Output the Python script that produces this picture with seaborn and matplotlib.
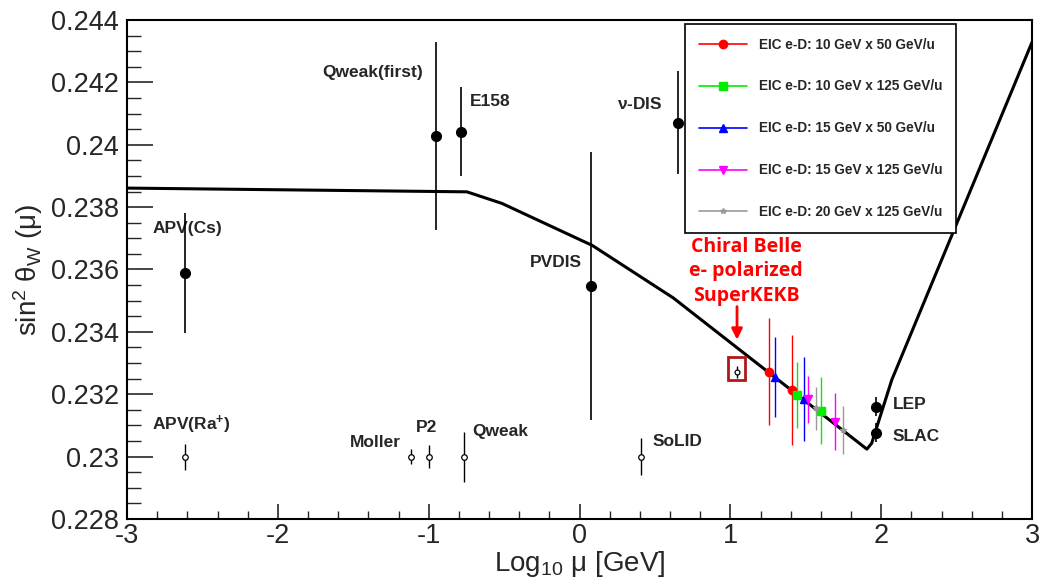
import numpy as np
import pandas as pd
import matplotlib.pyplot as plt
import seaborn as sns
from matplotlib.lines import Line2D
from matplotlib.patches import Rectangle

# Running sin^2 theta_W prediction (log10 mu, value)
curve_x = [-3.0, -0.747, -0.515, 0.085, 0.621, 1.905, 1.937, 2.07, 3.0]
curve_y = [0.23861, 0.23849, 0.23812, 0.23677, 0.23509, 0.23024, 0.23043, 0.23246, 0.24329]

# Existing measurements (filled black points)
meas_names = ['APV(Cs)', 'Qweak(first)', 'E158', r'$\nu$-DIS', 'PVDIS', 'LEP', 'SLAC']
meas_x = [-2.615, -0.951, -0.787, 0.656, 0.077, 1.967, 1.965]
meas_y = [0.23589, 0.24028, 0.24042, 0.24071, 0.23548, 0.23160, 0.23077]
meas_err = [0.00193, 0.0030, 0.00142, 0.00164, 0.0043, 0.0003, 0.0003]

# Future projections (open points at 0.23)
proj_names = [r'APV(Ra$^{+}$)', 'Moller', 'P2', 'Qweak', 'SoLID']
proj_x = [-2.615, -1.119, -0.995, -0.763, 0.406]
proj_y = [0.2300, 0.2300, 0.2300, 0.2300, 0.2300]
proj_err = [0.00042, 0.00025, 0.00037, 0.0008, 0.0006]

# Chiral Belle projection
belle_x = [1.044]
belle_y = [0.23272]
belle_err = [0.0002]

# EIC e-D projections
eic_labels = ['EIC e-D: 10 GeV x 50 GeV/u', 'EIC e-D: 10 GeV x 125 GeV/u',
              'EIC e-D: 15 GeV x 50 GeV/u', 'EIC e-D: 15 GeV x 125 GeV/u',
              'EIC e-D: 20 GeV x 125 GeV/u']
eic_x = [[1.259, 1.407], [1.440, 1.602], [1.294, 1.490], [1.514, 1.692], [1.569, 1.745]]
eic_y = [[0.23272, 0.23214], [0.23198, 0.23147], [0.23256, 0.23184],
         [0.23184, 0.23112], [0.23155, 0.23086]]
eic_err = [[0.00171, 0.00177], [0.00106, 0.00108], [0.00128, 0.00134],
           [0.00076, 0.00091], [0.00069, 0.00076]]

x_ticks = [-3, -2, -1, 0, 1, 2, 3]
x_tick_labels = ['-3', '-2', '-1', '0', '1', '2', '3']
y_ticks = [0.228, 0.230, 0.232, 0.234, 0.236, 0.238, 0.240, 0.242, 0.244]
y_tick_labels = ['0.228', '0.23', '0.232', '0.234', '0.236', '0.238', '0.24', '0.242', '0.244']

# styling
eic_colors = ['#ff0000', '#00ee00', '#0000ff', '#ff00ff', '#999999']
eic_markers = ['o', 's', '^', 'v', '*']
meas_label_pos = [(-2.834, 0.23733), (-1.707, 0.24233), (-0.726, 0.24140), (0.249, 0.24131),
                  (-0.328, 0.23621), (2.079, 0.23166), (2.072, 0.23066)]
proj_label_pos = [(-2.834, 0.23101), (-1.522, 0.23044), (-1.084, 0.23092),
                  (-0.713, 0.23079), (0.487, 0.23050)]

sns.set_style('ticks')
plt.rcParams['font.family'] = ['Liberation Sans', 'DejaVu Sans']
plt.rcParams['mathtext.fontset'] = 'custom'
plt.rcParams['mathtext.rm'] = 'Liberation Sans'
plt.rcParams['mathtext.it'] = 'Liberation Sans:italic'
plt.rcParams['mathtext.bf'] = 'Liberation Sans:bold'
plt.rcParams['mathtext.default'] = 'regular'

fig = plt.figure(figsize=(10.43, 5.79), dpi=100)
ax = fig.add_axes([0.1218, 0.1036, 0.8677, 0.8619])

# prediction curve
curve = pd.DataFrame({'x': curve_x, 'y': curve_y})
sns.lineplot(data=curve, x='x', y='y', sort=False, estimator=None, color='black', lw=2.2, ax=ax, zorder=3)

# existing measurements
ax.errorbar(meas_x, meas_y, yerr=meas_err, fmt='o', color='black', ms=7, elinewidth=1.2,
            capsize=0, zorder=5)
for name, (tx, ty) in zip(meas_names, meas_label_pos):
    ax.text(tx, ty, name, fontsize=12.5, fontweight='bold', ha='left', va='center')

# projections
ax.errorbar(proj_x, proj_y, yerr=proj_err, fmt='o', color='black', mfc='white', ms=4,
            mew=0.9, elinewidth=1.0, capsize=0, zorder=5)
for name, (tx, ty) in zip(proj_names, proj_label_pos):
    ax.text(tx, ty, name, fontsize=12.5, fontweight='bold', ha='left', va='center')

ax.errorbar(belle_x, belle_y, yerr=belle_err, fmt='o', color='black', mfc='white', ms=3.5,
            mew=0.9, elinewidth=1.0, capsize=0, zorder=5)
ax.add_patch(Rectangle((0.985, 0.23246), 0.112, 0.00072, fill=False, ec='#b01818', lw=2, zorder=6))
ax.annotate('', xy=(1.044, 0.23366), xytext=(1.044, 0.2349),
            arrowprops=dict(arrowstyle='-|>', color='red', lw=2, mutation_scale=16))
ax.text(1.104, 0.23705, 'Chiral Belle\ne- polarized\nSuperKEKB', color='red', fontsize=14,
        fontweight='bold', family=['Open Sans', 'DejaVu Sans'], ha='center', va='top',
        linespacing=1.3)

# EIC projections
handles = []
for lab, col, mk, xs, ys, es in zip(eic_labels, eic_colors, eic_markers, eic_x, eic_y, eic_err):
    ms = 6 if mk != '*' else 4
    ax.errorbar(xs, ys, yerr=es, fmt=mk, color=col, ms=ms, elinewidth=1.0, capsize=0, zorder=6)
    handles.append(Line2D([0], [0], color=col, marker=mk, ms=ms, lw=1.2))

leg = ax.legend(handles, eic_labels, loc='upper left', bbox_to_anchor=(0.617, 0.992),
                frameon=True, fancybox=False, edgecolor='black', framealpha=1,
                prop={'weight': 'bold', 'size': 9.8}, handlelength=3.5, labelspacing=2.05,
                borderpad=1.0, handletextpad=0.9, borderaxespad=0)
leg.get_frame().set_linewidth(1.2)

ax.set_xlim(-3, 3)
ax.set_ylim(0.228, 0.244)
ax.set_xticks(x_ticks)
ax.set_xticklabels(x_tick_labels)
ax.set_yticks(y_ticks)
ax.set_yticklabels(y_tick_labels)
ax.xaxis.set_minor_locator(plt.MultipleLocator(0.2))
ax.yaxis.set_minor_locator(plt.MultipleLocator(0.0005))
ax.tick_params(axis='y', which='major', direction='in', length=19, width=1.2, labelsize=19.5, pad=6)
ax.tick_params(axis='y', which='minor', direction='in', length=10, width=1.0)
ax.tick_params(axis='x', which='major', direction='in', length=11, width=1.2, labelsize=19.5, pad=3)
ax.tick_params(axis='x', which='minor', direction='in', length=5.5, width=1.0)
for s in ax.spines.values():
    s.set_linewidth(1.5)
    s.set_color('black')

ax.set_xlabel(r'Log$_{10}$ μ [GeV]', fontsize=20, labelpad=0)
ax.set_ylabel(r'sin$^2$ θ$_W$ (μ)', fontsize=20, labelpad=4)

fig.savefig('out.png', dpi=100)
